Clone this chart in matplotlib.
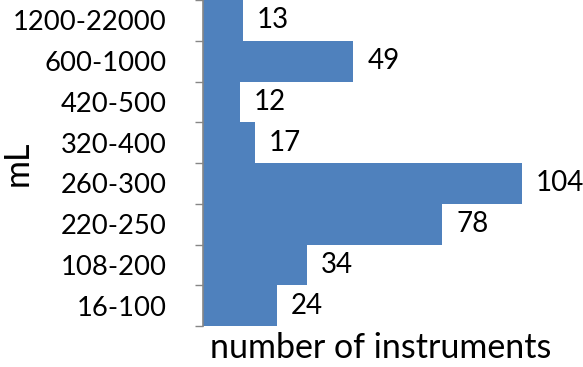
import matplotlib
matplotlib.use("Agg")
import matplotlib.pyplot as plt
import numpy as np

categories = ["16-100", "108-200", "220-250", "260-300", "320-400", "420-500", "600-1000", "1200-22000"]
values = [24, 34, 78, 104, 17, 12, 49, 13]

plt.rcParams['font.family'] = ['Lato', 'DejaVu Sans']

fig = plt.figure(figsize=(5.83, 3.67), dpi=100)
ax = fig.add_axes([203/583, 1 - 326/367, (559-203)/583, 326/367])

y = np.arange(len(categories))
ax.barh(y, values, height=1.0, color="#4F81BD", edgecolor="none")
ax.set_ylim(-0.5, len(categories) - 0.5)
ax.set_xlim(0, 116)

for yi, v in zip(y, values):
    ax.annotate(str(v), xy=(v, yi), xytext=(10, 0), textcoords="offset points",
                va="center", ha="left", fontsize=20)

ax.set_yticks(y)
ax.set_yticklabels(categories, fontsize=19.7)
ax.set_yticks(np.arange(-0.5, len(categories), 1.0), minor=True)
ax.tick_params(axis="y", which="major", length=0, pad=26)
ax.tick_params(axis="y", which="minor", length=6, color="#868686", width=1)
ax.set_xticks([])

for s in ["top", "right", "bottom"]:
    ax.spines[s].set_visible(False)
ax.spines["left"].set_color("#868686")
ax.spines["left"].set_linewidth(1.2)

ax.set_xlabel("number of instruments", fontsize=24.5, labelpad=4)
ax.set_ylabel("mL", fontsize=24.5)
ax.yaxis.set_label_coords(-0.475, 0.5)

fig.savefig("out.png", dpi=100)
